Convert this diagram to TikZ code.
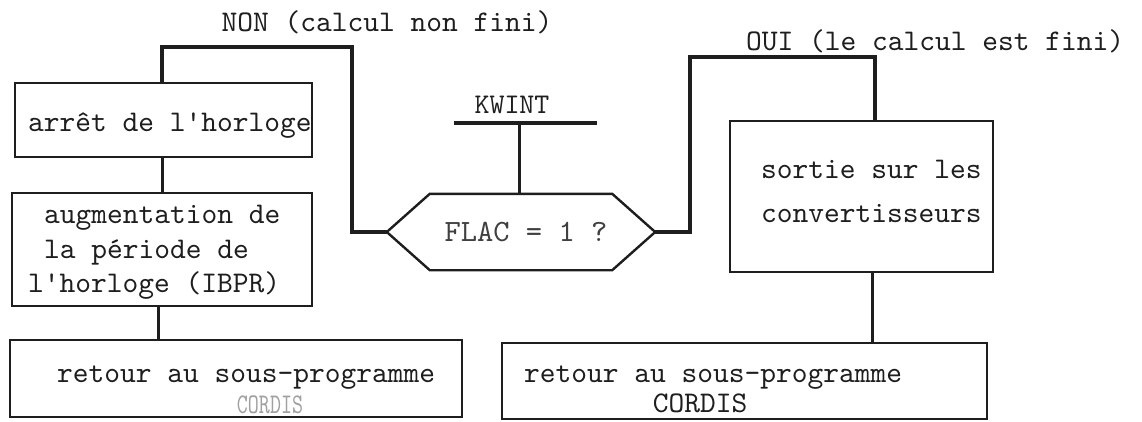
\documentclass[tikz,border=0pt]{standalone}
\usepackage{fontspec}
\newfontfamily\tw{lmmono10-regular.otf}
\definecolor{ink}{HTML}{1E1E1E}
\definecolor{faded}{HTML}{A0A0A0}
\begin{document}
\begin{tikzpicture}[x=1pt,y=-1pt,
  box/.style={draw=ink, line width=2.6pt, rectangle, inner sep=0pt},
  txt/.style={text=ink, font=\tw\fontsize{30}{36}\selectfont, inner sep=0pt, anchor=base west},
  small/.style={text=ink, font=\tw\fontsize{28.5}{34}\selectfont, inner sep=0pt, anchor=base},
  heavy/.style={draw=ink, line width=4.5pt},
  conn/.style={draw=ink, line width=3pt},
  hexline/.style={draw=ink, line width=2.4pt, line join=miter}]
\useasboundingbox (0,0) rectangle (1142,421);

% boxes
\node[box, minimum width=297pt, minimum height=74pt]  (b1)  at (163.5,120) {};
\node[box, minimum width=300pt, minimum height=113pt] (b2)  at (162,249.5) {};
\node[box, minimum width=452pt, minimum height=77pt]  (b3)  at (236,378.5) {};
\node[box, minimum width=263pt, minimum height=151pt] (bR)  at (861.5,196.5) {};
\node[box, minimum width=485pt, minimum height=76pt]  (bRB) at (744.5,381) {};

% decision hexagon
\node[anchor=center, inner sep=0pt, minimum width=268pt, minimum height=76pt,
      text=ink!85, font=\tw\fontsize{31}{36}\selectfont] (hex) at (521,232) {\hspace{10pt}FLAC = 1 ?};
\draw[hexline] (hex.west) -- ([xshift=43pt]hex.north west) -- ([xshift=-43pt]hex.north east)
  -- (hex.east) -- ([xshift=-43pt]hex.south east) -- ([xshift=43pt]hex.south west) -- cycle;

% KWINT
\node[small] (kw) at (512,113) {KWINT};
\coordinate (kbL) at (454,123);
\coordinate (kbR) at (597,123);
\coordinate (kbM) at (519,123);
\draw[heavy] (kbL) -- (kbR);
\draw[conn] (kbM) -- (kbM |- hex.north);

% texts
\node[txt, anchor=base] (tnon) at (387,31) {NON (calcul non fini)};
\node[txt, anchor=base] (toui) at (935,50) {OUI (le calcul est fini)};
\node[txt] (t1)  at (28,131) {arrêt de l'horloge};
\node[txt] (t2a) at (44,223) {augmentation de};
\node[txt] (t2b) at (44,258) {la période de};
\node[txt] (t2c) at (28,292) {l'horloge (IBPR)};
\node[txt] (t3a) at (57,382) {retour au sous-programme};
\node[txt, anchor=base, text=faded] (t3b) at (270,413) {\scalebox{0.7}[0.95]{CORDIS}};
\node[txt] (tRa) at (761,178) {sortie sur les};
\node[txt] (tRb) at (761,222) {convertisseurs};
\node[txt] (tRBa) at (524,382) {retour au sous-programme};
\node[txt, anchor=base] (tRBb) at (700,412) {CORDIS};

% NON branch
\coordinate (nonL) at (162,47);
\coordinate (nonR) at (352,47);
\draw[heavy, line join=miter] ([xshift=-1.5pt]b1.north) -- (nonL) -- (nonR) |- (hex.west);

% OUI branch
\coordinate (ouiL) at (690,57);
\coordinate (ouiR) at (875,57);
\draw[heavy, line join=miter] (hex.east) -| (ouiL) -- (ouiR) -- (ouiR |- bR.north);

% vertical connectors
\draw[conn] ([xshift=-1.5pt]b1.south) -- ([xshift=-1.5pt]b1.south |- b2.north);
\draw[conn] ([xshift=-4pt]b2.south) -- ([xshift=-4pt]b2.south |- b3.north);
\coordinate (rc) at (872,272);
\draw[conn] (rc |- bR.south) -- (rc |- bRB.north);
\end{tikzpicture}
\end{document}
